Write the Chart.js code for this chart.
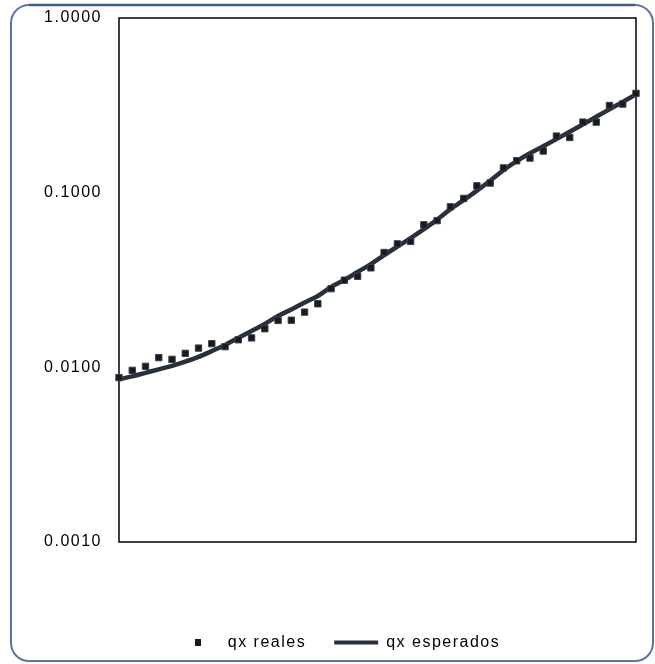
<!DOCTYPE html>
<html>
<head>
<meta charset="utf-8">
<script src="https://cdn.jsdelivr.net/npm/chart.js@4/dist/chart.umd.min.js"></script>
<style>
  html, body { margin: 0; padding: 0; background: #ffffff; }
  #wrap { width: 655px; height: 664px; }
</style>
</head>
<body>
<div id="wrap"><canvas id="c" width="655" height="664"></canvas></div>
<script>
// Edades de la tabla (eje X sin rótulos)
const edades = [60, 61, 62, 63, 64, 65, 66, 67, 68, 69,
                70, 71, 72, 73, 74, 75, 76, 77, 78, 79,
                80, 81, 82, 83, 84, 85, 86, 87, 88, 89,
                90, 91, 92, 93, 94, 95, 96, 97, 98, 99];

// Tasas de mortalidad observadas
const qxReales = [0.00873, 0.00961, 0.01013, 0.01136, 0.01111, 0.01202, 0.01289, 0.01366, 0.01313, 0.01439,
                  0.01474, 0.01664, 0.01856, 0.01861, 0.02070, 0.02312, 0.02820, 0.03154, 0.03323, 0.03712,
                  0.04542, 0.05091, 0.05261, 0.06546, 0.06918, 0.08296, 0.09266, 0.1094, 0.1136, 0.1386,
                  0.1523, 0.1579, 0.1733, 0.2109, 0.2070, 0.2535, 0.2535, 0.3154, 0.3217, 0.3703];

// Tasas de mortalidad ajustadas
const qxEsperados = [0.00854, 0.00888, 0.00930, 0.00974, 0.01020, 0.01078, 0.01148, 0.01239, 0.01344, 0.01474,
                     0.01616, 0.01772, 0.01969, 0.02145, 0.02352, 0.02562, 0.02884, 0.03162, 0.03513, 0.03903,
                     0.04394, 0.04913, 0.05495, 0.06183, 0.07010, 0.08045, 0.09061, 0.1027, 0.1171, 0.1344,
                     0.1514, 0.1681, 0.1843, 0.2026, 0.2231, 0.2462, 0.2718, 0.3000, 0.3311, 0.3654];

// Marcas del eje logarítmico
const yTicks = [0.001, 0.01, 0.1, 1];
const yTickLabels = ['0.0010', '0.0100', '0.1000', '1.0000'];

const nombreReales = 'qx reales';
const nombreEsperados = 'qx esperados';

const colorLinea = '#27303d';
const colorPunto = '#161a22';

// Cuadrado pequeño para la leyenda de los puntos
const marcaLeyenda = document.createElement('canvas');
marcaLeyenda.width = 6; marcaLeyenda.height = 7;
(function () {
  const g = marcaLeyenda.getContext('2d');
  g.fillStyle = colorPunto;
  g.fillRect(0, 0, 6, 7);
})();

// Marco redondeado, borde del área de trazado y espaciado de letras
const marco = {
  id: 'marco',
  beforeLayout(chart) { chart.ctx.letterSpacing = '1.5px'; },
  beforeDraw(chart) {
    const ctx = chart.ctx;
    ctx.letterSpacing = '1.5px';
    ctx.save();
    ctx.fillStyle = '#ffffff';
    ctx.fillRect(0, 0, chart.width, chart.height);
    ctx.beginPath();
    ctx.roundRect(11, 5, 642, 656, 18);
    ctx.lineWidth = 2;
    ctx.strokeStyle = '#5a76a2';
    ctx.stroke();
    ctx.beginPath();
    ctx.moveTo(29, 5);
    ctx.lineTo(635, 5);
    ctx.lineWidth = 2.5;
    ctx.strokeStyle = '#3f5b88';
    ctx.stroke();
    ctx.restore();
  },
  beforeDatasetsDraw(chart) {
    const a = chart.chartArea;
    const ctx = chart.ctx;
    ctx.save();
    ctx.lineWidth = 1.5;
    ctx.strokeStyle = '#000000';
    ctx.strokeRect(a.left, a.top, a.right - a.left, a.bottom - a.top);
    ctx.restore();
  }
};

const fuente = { family: '"Liberation Sans", Arial, sans-serif', size: 16 };

new Chart(document.getElementById('c'), {
  type: 'line',
  data: {
    labels: edades,
    datasets: [
      {
        label: nombreReales,
        data: qxReales,
        showLine: false,
        pointStyle: 'rect',
        pointRadius: 4.5,
        pointHoverRadius: 4.5,
        backgroundColor: colorPunto,
        borderColor: '#3a3f47',
        borderWidth: 1
      },
      {
        label: nombreEsperados,
        data: qxEsperados,
        borderColor: colorLinea,
        backgroundColor: colorLinea,
        borderWidth: 4.5,
        pointRadius: 0,
        cubicInterpolationMode: 'monotone',
        fill: false
      }
    ]
  },
  options: {
    responsive: false,
    animation: false,
    devicePixelRatio: 1,
    layout: { padding: { left: 40, right: 19, top: 18, bottom: 3.5 } },
    scales: {
      x: {
        type: 'category',
        offset: false,
        grid: { display: false },
        border: { display: false },
        ticks: { display: false },
        afterFit(s) { s.height = 64.5; }
      },
      y: {
        type: 'logarithmic',
        min: 0.001,
        max: 1,
        grid: { display: false, drawTicks: false },
        border: { display: false },
        afterBuildTicks(s) { s.ticks = yTicks.map(v => ({ value: v })); },
        ticks: {
          padding: 17,
          color: '#000000',
          font: fuente,
          callback(v) {
            const i = yTicks.findIndex(t => Math.abs(t - v) < 1e-9);
            return i >= 0 ? yTickLabels[i] : '';
          }
        },
        afterFit(s) {
          s.width = 79;
          s.paddingTop = 0;
          s.paddingBottom = 0;
        }
      }
    },
    plugins: {
      tooltip: { enabled: false },
      legend: {
        position: 'bottom',
        labels: {
          usePointStyle: true,
          pointStyleWidth: 44,
          padding: 28,
          color: '#000000',
          font: fuente,
          generateLabels(chart) {
            return [
              {
                text: nombreReales, datasetIndex: 0,
                pointStyle: marcaLeyenda, fillStyle: colorPunto,
                strokeStyle: colorPunto, lineWidth: 0, fontColor: '#000000'
              },
              {
                text: nombreEsperados, datasetIndex: 1,
                pointStyle: 'line', fillStyle: colorLinea,
                strokeStyle: colorLinea, lineWidth: 4, fontColor: '#000000'
              }
            ];
          }
        }
      }
    }
  },
  plugins: [marco]
});
</script>
</body>
</html>
